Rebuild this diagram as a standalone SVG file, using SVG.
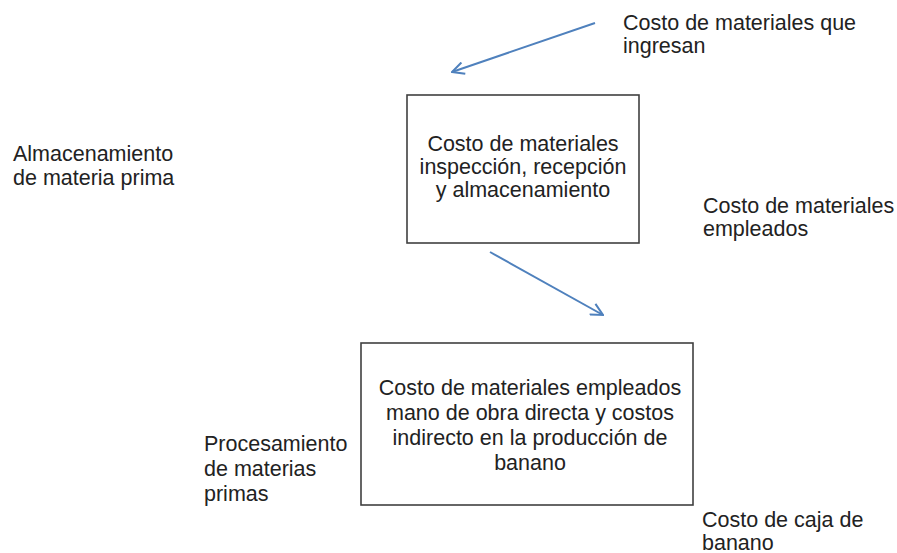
<svg xmlns="http://www.w3.org/2000/svg" width="897" height="553" viewBox="0 0 897 553">
<defs>
<style>
text{font-family:"Liberation Sans",Arial,sans-serif;font-size:21.5px;fill:#222}
.c{text-anchor:middle}
.box{fill:#fff;stroke:#404040;stroke-width:1.6}
.arr{stroke:#4f81bd;stroke-width:2;fill:none;marker-end:url(#ah)}
</style>
<marker id="ah" viewBox="0 0 14 14" refX="13" refY="7" markerWidth="14" markerHeight="14" markerUnits="userSpaceOnUse" orient="auto">
<path d="M1,1 L13,7 L1,13" fill="none" stroke="#4f81bd" stroke-width="2"/>
</marker>
</defs>
<rect width="897" height="553" fill="#fff"/>
<g id="connectors">
<line class="arr" x1="595" y1="23" x2="452" y2="72"/>
<line class="arr" x1="490" y1="252" x2="603" y2="315"/>
</g>
<g id="box1">
<rect class="box" x="407" y="95" width="232" height="148"/>
<text class="c" x="523" y="151">Costo de materiales</text>
<text class="c" x="523" y="174">inspección, recepción</text>
<text class="c" x="523" y="197">y almacenamiento</text>
</g>
<g id="box2">
<rect class="box" x="361" y="343" width="332" height="162"/>
<text class="c" x="530" y="395">Costo de materiales empleados</text>
<text class="c" x="530" y="420">mano de obra directa y costos</text>
<text class="c" x="530" y="445">indirecto en la producción de</text>
<text class="c" x="530" y="470">banano</text>
</g>
<g id="label-ingresan">
<text x="623" y="30">Costo de materiales que</text>
<text x="623" y="53">ingresan</text>
</g>
<g id="label-almacenamiento">
<text x="13" y="161">Almacenamiento</text>
<text x="13" y="185">de materia prima</text>
</g>
<g id="label-empleados">
<text x="703" y="213">Costo de materiales</text>
<text x="703" y="236">empleados</text>
</g>
<g id="label-procesamiento">
<text x="204" y="451">Procesamiento</text>
<text x="204" y="476">de materias</text>
<text x="204" y="501">primas</text>
</g>
<g id="label-caja">
<text x="702" y="527">Costo de caja de</text>
<text x="702" y="550">banano</text>
</g>
</svg>
